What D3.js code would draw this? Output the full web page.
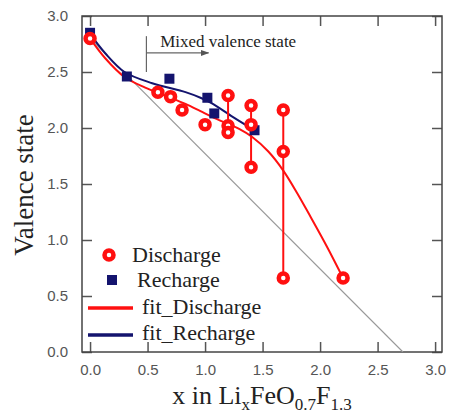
<!DOCTYPE html>
<html>
<head>
<meta charset="utf-8">
<script src="https://cdn.jsdelivr.net/npm/d3@7"></script>
<style>
  body { margin: 0; background: #fff; }
  .tick text { font-family: "Liberation Sans", Arial, sans-serif; font-size: 15px; fill: #555; }
  .tick line { stroke: #555; stroke-width: 1.5; }
</style>
</head>
<body>
<div id="chart"></div>
<script>
// measured points (x, valence)
var dischargeX = [0, 0.59, 0.70, 0.80, 1.0, 1.2, 1.2, 1.2, 1.4, 1.4, 1.4, 1.68, 1.68, 1.68, 2.2];
var dischargeY = [2.80, 2.32, 2.28, 2.16, 2.03, 2.29, 2.02, 1.96, 2.20, 2.03, 1.65, 2.16, 1.79, 0.66, 0.66];
var rechargeX = [0, 0.32, 0.69, 1.02, 1.08, 1.43];
var rechargeY = [2.85, 2.46, 2.44, 2.27, 2.13, 1.98];
// fit curves
var fitDisX = [0, 0.13, 0.30, 0.48, 0.65, 0.83, 0.96, 1.06, 1.19, 1.30, 1.41, 1.55, 1.68, 1.80, 1.91, 2.06, 2.2];
var fitDisY = [2.80, 2.625, 2.455, 2.36, 2.29, 2.215, 2.15, 2.10, 2.04, 1.99, 1.92, 1.79, 1.62, 1.42, 1.22, 0.94, 0.66];
var fitRecX = [0, 0.13, 0.30, 0.54, 0.83, 0.96, 1.06, 1.24, 1.43];
var fitRecY = [2.84, 2.67, 2.50, 2.40, 2.32, 2.27, 2.22, 2.10, 1.98];
// gray reference line
var refX = [0, 2.72];
var refY = [2.8, 0];
var xTicks = [0, 0.5, 1, 1.5, 2, 2.5, 3];
var yTicks = [0, 0.5, 1, 1.5, 2, 2.5, 3];

var svgWidth = 469, svgHeight = 415;
var margin = {top: 16, right: 27, bottom: 63, left: 82};
var width = svgWidth - margin.left - margin.right;
var height = svgHeight - margin.top - margin.bottom;

var red = "#ff1010", navy = "#14146e";

var svg = d3.select("#chart").append("svg")
  .attr("width", svgWidth).attr("height", svgHeight);
var g = svg.append("g").attr("transform", `translate(${margin.left}, ${margin.top})`);

var x = d3.scaleLinear().domain([-0.07, 3.06]).range([0, width]);
var y = d3.scaleLinear().domain([0, 3]).range([height, 0]);

var defs = svg.append("defs");
defs.append("clipPath").attr("id", "clip").append("rect")
  .attr("width", width).attr("height", height);
defs.append("marker").attr("id", "arrow")
  .attr("viewBox", "0 0 10 10").attr("refX", 9).attr("refY", 5)
  .attr("markerWidth", 7).attr("markerHeight", 7).attr("orient", "auto")
  .append("path").attr("d", "M0,1.5 L10,5 L0,8.5 Z").attr("fill", "#555");

// axes with inward ticks
var fmt = d3.format(".1f");
g.append("g").attr("transform", `translate(0, ${height})`)
  .call(d3.axisBottom(x).tickValues(xTicks).tickFormat(fmt).tickSizeInner(-10).tickSizeOuter(0).tickPadding(12));
g.append("g")
  .call(d3.axisTop(x).tickValues(xTicks).tickFormat("").tickSizeInner(-10).tickSizeOuter(0));
g.append("g")
  .call(d3.axisLeft(y).tickValues(yTicks).tickFormat(fmt).tickSizeInner(-10).tickSizeOuter(0).tickPadding(14));
g.append("g").attr("transform", `translate(${width}, 0)`)
  .call(d3.axisRight(y).tickValues(yTicks).tickFormat("").tickSizeInner(-10).tickSizeOuter(0));
g.selectAll(".domain").remove();

g.append("rect").attr("width", width).attr("height", height)
  .attr("fill", "none").attr("stroke", "#444").attr("stroke-width", 1.5);

var plot = g.append("g").attr("clip-path", "url(#clip)");

// reference line
plot.append("line")
  .attr("x1", x(refX[0])).attr("y1", y(refY[0]))
  .attr("x2", x(refX[1])).attr("y2", y(refY[1]))
  .attr("stroke", "#999").attr("stroke-width", 1.2);

// mixed valence annotation
g.append("line").attr("x1", x(0.49)).attr("x2", x(0.49)).attr("y1", y(2.82)).attr("y2", y(2.5))
  .attr("stroke", "#666").attr("stroke-width", 1.2);
g.append("line").attr("x1", x(0.49)).attr("x2", x(1.03)).attr("y1", y(2.67)).attr("y2", y(2.67))
  .attr("stroke", "#666").attr("stroke-width", 1.2).attr("marker-end", "url(#arrow)");
g.append("text").attr("x", x(0.61)).attr("y", y(2.72))
  .style("font-family", "Liberation Serif, serif").style("font-size", "17px").attr("fill", "#222")
  .text("Mixed valence state");

var line = d3.line().x(d => x(d[0])).y(d => y(d[1])).curve(d3.curveCatmullRom.alpha(0.5));
plot.append("path").datum(d3.zip(fitDisX, fitDisY)).attr("d", line)
  .attr("fill", "none").attr("stroke", red).attr("stroke-width", 2);
plot.append("path").datum(d3.zip(fitRecX, fitRecY)).attr("d", line)
  .attr("fill", "none").attr("stroke", navy).attr("stroke-width", 2);

// vertical connectors where discharge points share an x
var dis = d3.zip(dischargeX, dischargeY);
var groups = d3.groups(dis, d => d[0]).filter(d => d[1].length > 1);
plot.selectAll(".conn").data(groups).enter().append("line")
  .attr("x1", d => x(d[0])).attr("x2", d => x(d[0]))
  .attr("y1", d => y(d3.max(d[1], p => p[1]))).attr("y2", d => y(d3.min(d[1], p => p[1])))
  .attr("stroke", red).attr("stroke-width", 2);

var sq = 10;
plot.selectAll(".rec").data(d3.zip(rechargeX, rechargeY)).enter().append("rect")
  .attr("x", d => x(d[0]) - sq / 2).attr("y", d => y(d[1]) - sq / 2)
  .attr("width", sq).attr("height", sq).attr("fill", navy);

plot.selectAll(".dis").data(dis).enter().append("circle")
  .attr("cx", d => x(d[0])).attr("cy", d => y(d[1])).attr("r", 4.5)
  .attr("fill", "#fff").attr("stroke", red).attr("stroke-width", 4.5);

// legend
var leg = svg.append("g").style("font-family", "Liberation Serif, serif").style("font-size", "22px").attr("fill", "#222");
leg.append("circle").attr("cx", 109).attr("cy", 255).attr("r", 4.5)
  .attr("fill", "#fff").attr("stroke", red).attr("stroke-width", 4.5);
leg.append("text").attr("x", 132).attr("y", 262).text("Discharge");
leg.append("rect").attr("x", 107).attr("y", 275).attr("width", sq).attr("height", sq).attr("fill", navy);
leg.append("text").attr("x", 137).attr("y", 287).text("Recharge");
leg.append("line").attr("x1", 88).attr("x2", 133).attr("y1", 308).attr("y2", 308)
  .attr("stroke", red).attr("stroke-width", 3.5);
leg.append("text").attr("x", 142).attr("y", 314).text("fit_Discharge");
leg.append("line").attr("x1", 88).attr("x2", 133).attr("y1", 335).attr("y2", 335)
  .attr("stroke", navy).attr("stroke-width", 3.5);
leg.append("text").attr("x", 142).attr("y", 340).text("fit_Recharge");

// axis titles
var xt = svg.append("text").attr("x", 262).attr("y", 404).attr("text-anchor", "middle")
  .style("font-family", "Liberation Serif, serif").style("font-size", "26px").attr("fill", "#222");
xt.append("tspan").text("x in Li");
xt.append("tspan").attr("dy", 6).style("font-size", "17px").text("x");
xt.append("tspan").attr("dy", -6).text("FeO");
xt.append("tspan").attr("dy", 6).style("font-size", "17px").text("0.7");
xt.append("tspan").attr("dy", -6).text("F");
xt.append("tspan").attr("dy", 6).style("font-size", "17px").text("1.3");

svg.append("text").attr("transform", "translate(33, 185) rotate(-90)").attr("text-anchor", "middle")
  .style("font-family", "Liberation Serif, serif").style("font-size", "27px").attr("fill", "#222")
  .text("Valence state");
</script>
</body>
</html>
